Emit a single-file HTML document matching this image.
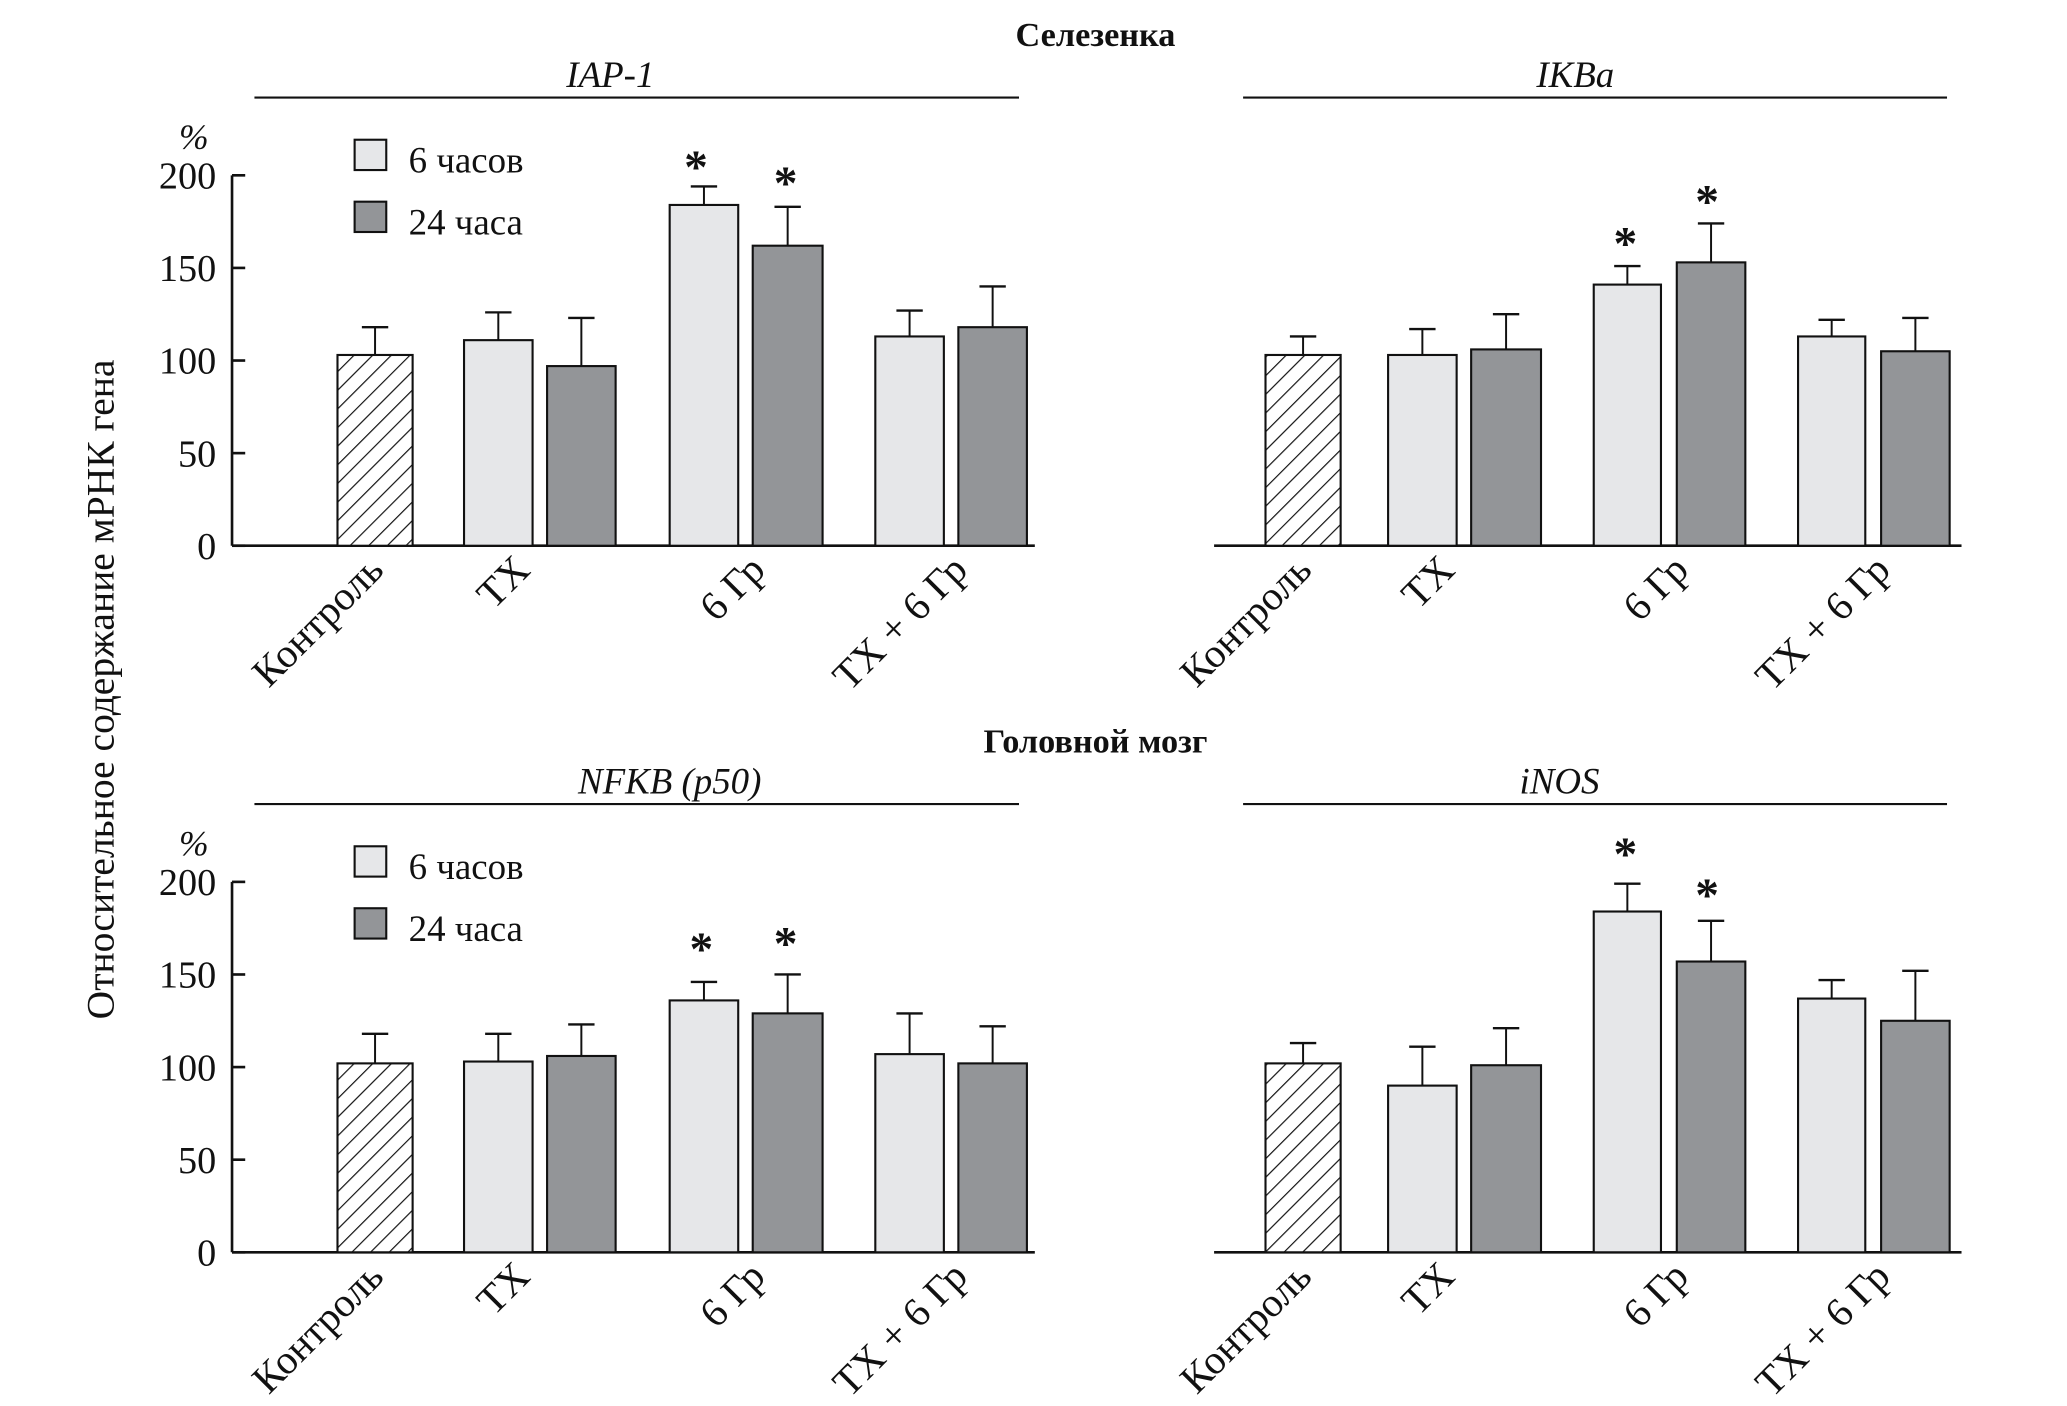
<!DOCTYPE html>
<html><head><meta charset="utf-8">
<style>
html,body{margin:0;padding:0;background:#fff;}
svg{display:block;}
</style></head>
<body>
<svg id="s" width="2067" height="1406" viewBox="0 0 1568 1066.6" xmlns="http://www.w3.org/2000/svg" font-family="Liberation Serif, DejaVu Serif, serif" fill="#111">
<defs>
<pattern id="h" patternUnits="userSpaceOnUse" width="10" height="10" patternTransform="rotate(45)">
<rect width="10" height="10" fill="#fff"/>
<line x1="0" y1="0" x2="0" y2="10" stroke="#111" stroke-width="1.8"/>
</pattern>
</defs>
<text x="831" y="35" font-size="26" font-weight="bold" text-anchor="middle" font-family="Liberation Serif, serif">Селезенка</text>
<text x="831" y="571" font-size="26" font-weight="bold" text-anchor="middle" font-family="Liberation Serif, serif">Головной мозг</text>
<text transform="translate(86,523) rotate(-90)" font-size="30" text-anchor="middle" font-family="Liberation Serif, serif">Относительное содержание мРНК  гена</text>
<g id="g" font-family="Liberation Serif, serif"></g>
</svg>
<script>
var g=document.getElementById('g'),NS='http://www.w3.org/2000/svg';
function el(t,a,txt){var e=document.createElementNS(NS,t);for(var k in a)e.setAttribute(k,a[k]);if(txt!=null){e.textContent=txt;e.setAttribute('font-family','Liberation Serif, serif');}g.appendChild(e);return e;}
var S=1.405;
var L=[[256,313],[352,404],[415,467],[508,560],[571,624],[664,716],[727,779]];
var R=[[960,1017],[1053,1105],[1116,1169],[1209,1260],[1272,1324],[1364,1415],[1427,1479]];
var cats=['Контроль','ТХ','6 Гр','ТХ + 6 Гр'];
function panel(pos,zero,vals,errs,stars,title,tx,line,axis,legend){
  var y0=zero;
  el('text',{x:tx,y:zero-348,'font-size':28,'font-style':'italic','text-anchor':'middle'},title);
  el('line',{x1:line[0],y1:zero-340,x2:line[1],y2:zero-340,stroke:'#111','stroke-width':1.6});
  el('line',{x1:axis[0],y1:y0,x2:axis[1],y2:y0,stroke:'#111','stroke-width':2});
  if(legend){
    el('line',{x1:176,y1:y0,x2:176,y2:y0-281,stroke:'#111','stroke-width':2});
    [0,50,100,150,200].forEach(function(v){var y=y0-v*S;
      el('line',{x1:176,y1:y,x2:186,y2:y,stroke:'#111','stroke-width':2});
      el('text',{x:164,y:y+10,'font-size':29,'text-anchor':'end'},''+v);});
    el('text',{x:147,y:y0-301,'font-size':27,'font-style':'italic','text-anchor':'middle'},'%');
    el('rect',{x:269,y:y0-308,width:24,height:23,fill:'#e6e7e9',stroke:'#111','stroke-width':1.6});
    el('rect',{x:269,y:y0-261,width:24,height:23,fill:'#939598',stroke:'#111','stroke-width':1.6});
    el('text',{x:310,y:y0-283,'font-size':28},'6 часов');
    el('text',{x:310,y:y0-236,'font-size':28},'24 часа');
  }
  for(var i=0;i<7;i++){
    var b=pos[i],top=y0-vals[i]*S,et=y0-errs[i]*S,c=(b[0]+b[1])/2;
    el('line',{x1:c,y1:top,x2:c,y2:et,stroke:'#111','stroke-width':1.5});
    el('line',{x1:c-10,y1:et,x2:c+10,y2:et,stroke:'#111','stroke-width':1.8});
    var f=i==0?'url(#h)':(i%2==1?'#e6e7e9':'#939598');
    el('rect',{x:b[0],y:top,width:b[1]-b[0],height:y0-top,fill:f,stroke:'#111','stroke-width':1.6});
  }
  stars.forEach(function(s){el('text',{x:s[0],y:s[1]+14,'font-size':36,'font-weight':'bold','text-anchor':'middle'},'*');});
  var cx=[(pos[0][0]+pos[0][1])/2,(pos[1][0]+pos[2][1])/2,(pos[3][0]+pos[4][1])/2,(pos[5][0]+pos[6][1])/2];
  var off=[8,-6,16,14];
  for(var j=0;j<4;j++){
    el('text',{transform:'translate('+(cx[j]+off[j])+','+(y0+20)+') rotate(-45)','font-size':31,'text-anchor':'end'},cats[j]);
  }
}
panel(L,414,[103,111,97,184,162,113,118],[118,126,123,194,183,127,140],[[528,125],[596,137]],'IAP-1',463,[193,773],[176,785],true);
panel(R,414,[103,103,106,141,153,113,105],[113,117,125,151,174,122,123],[[1233,183],[1295,151]],'IKBa',1195,[943,1477],[921,1488],false);
panel(L,950,[102,103,106,136,129,107,102],[118,118,123,146,150,129,122],[[532,718],[596,714]],'NFKB (p50)',508,[193,773],[176,785],true);
panel(R,950,[102,90,101,184,157,137,125],[113,111,121,199,179,147,152],[[1233,646],[1295,677]],'iNOS',1183,[943,1477],[921,1488],false);
</script>
</body></html>
